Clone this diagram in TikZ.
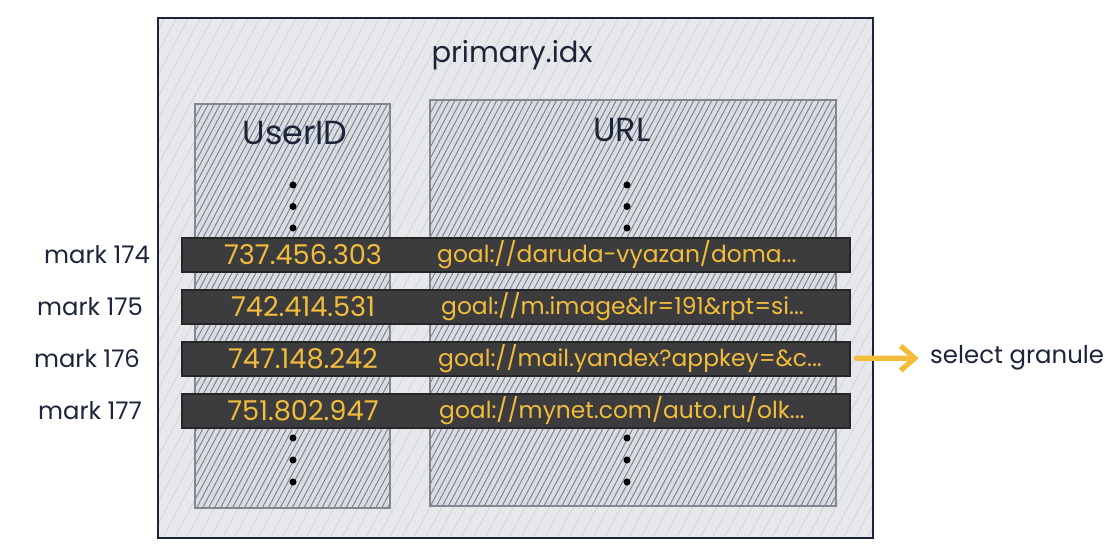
\documentclass[tikz,border=0pt]{standalone}
\usepackage{fontspec}
\setmainfont{Poppins}
\usetikzlibrary{arrows.meta,positioning,patterns.meta}
\definecolor{ink}{HTML}{1B2438}
\definecolor{gold}{HTML}{F2BD3B}
\definecolor{paper}{HTML}{E6E8EB}
\definecolor{colfill}{HTML}{D9DCE0}
\definecolor{barfill}{HTML}{3C3C3E}

\begin{document}
\begin{tikzpicture}[
  frame/.style={draw=ink, line width=1.4pt, preaction={fill=paper}, minimum width=14.3cm, minimum height=10.4cm,
    pattern={Lines[angle=62,distance=6pt,line width=0.4pt]}, pattern color=black!18},
  column/.style={draw=ink!55, line width=1.2pt, preaction={fill=colfill},
    pattern={Lines[angle=62,distance=3pt,line width=0.5pt]}, pattern color=ink!60},
  bar/.style={draw=black!85, line width=1.2pt, fill=barfill, minimum width=13.36cm, minimum height=0.68cm},
  val/.style={text=gold, font=\fontsize{15.5}{18}\selectfont},
  url/.style={text=gold, font=\fontsize{13.3}{16}\selectfont, anchor=west},
  lbl/.style={text=ink, font=\fontsize{13.8}{16}\selectfont},
  head/.style={text=ink, font=\fontsize{19}{22}\selectfont},
  dot/.style={circle, fill=black, inner sep=0pt, minimum size=4pt},
  arr/.style={-{Straight Barb[length=8pt,width=14pt]}, line width=3pt, gold, line cap=round}
]
  \useasboundingbox (0,0) rectangle (22.1,11.04);

  \node[frame] (idx) at (10.31,5.48) {};
  \node[head, font=\fontsize{16.5}{20}\selectfont] (title) at (10.24,9.94) {primary.idx};

  \node[column, minimum width=3.9cm, minimum height=8.08cm] (cuser) at (5.85,4.92) {};
  \node[column, minimum width=8.12cm, minimum height=8.12cm] (curl) at (12.66,4.98) {};
  \node[head] (huser) at (5.9,8.38) {UserID};
  \node[head] (hurl) at (12.44,8.44) {URL};

  \foreach \y [count=\k] in {7.34,6.91,6.48,2.28,1.84,1.40} {
    \node[dot] (d\k) at (5.86,\y) {};
    \node[dot] (e\k) at (12.54,\y) {};
  }

  \foreach \i/\y/\lx/\v in {174/5.94/1.94/737.456.303, 175/4.90/1.80/742.414.531,
                            176/3.86/1.74/747.148.242, 177/2.82/1.80/751.802.947} {
    \node[bar] (b\i) at (10.32,\y) {};
    \node[lbl] (m\i) at (\lx,\y) {mark \i};
    \node[val] (v\i) at (6.06,\y) {\v};
  }
  \node[url] (u174) at (8.62,5.94) {goal://daruda-vyazan/doma...};
  \node[url] (u175) at (8.70,4.90) {goal://m.image\&lr=191\&rpt=si...};
  \node[url] (u176) at (8.64,3.86) {goal://mail.yandex?appkey=\&c...};
  \node[url] (u177) at (8.66,2.82) {goal://mynet.com/auto.ru/olk...};

  \node[lbl, anchor=west, font=\fontsize{13.9}{16}\selectfont] (sel) at (18.48,3.88) {select granule};
  \draw[arr, shorten <=3pt, shorten >=3pt] (b176) -- (sel);
\end{tikzpicture}
\end{document}
